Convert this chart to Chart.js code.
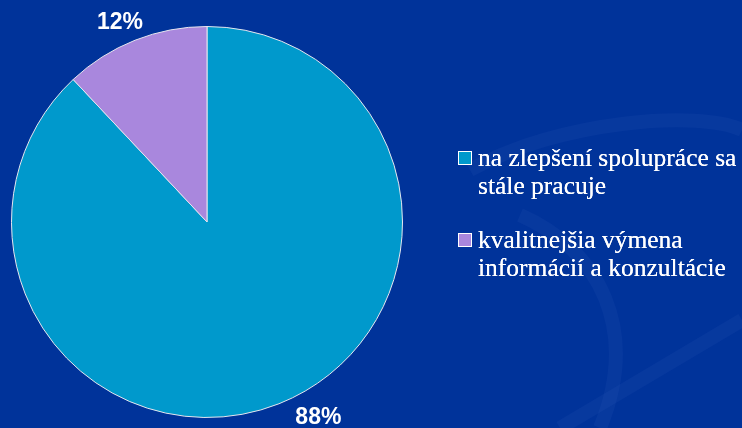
<!DOCTYPE html>
<html>
<head>
<meta charset="utf-8">
<script src="https://cdn.jsdelivr.net/npm/chart.js@4.4.0/dist/chart.umd.min.js"></script>
<style>
  html, body { margin: 0; padding: 0; }
  body {
    width: 742px; height: 428px; overflow: hidden; position: relative;
    background: #00339a;
  }
  #bg { position: absolute; left: 0; top: 0; }
  #wrap { position: absolute; left: 0; top: 0; width: 742px; height: 428px; }
  #legend {
    position: absolute; left: 458px; top: 144px;
    font-family: "Liberation Serif", "DejaVu Serif", serif;
    font-size: 25.5px; line-height: 28px; color: #fff;
    text-shadow: 0 0 0.6px #fff;
  }
  .item { position: relative; padding-left: 20px; margin-bottom: 26px; }
  .box {
    position: absolute; left: 0; top: 7px; width: 12px; height: 12px;
    border: 1px solid #fff;
  }
</style>
</head>
<body>
<svg id="bg" width="742" height="428">
  <g fill="none" stroke="rgba(120,160,230,0.06)" stroke-width="14">
    <path d="M470 170 C 560 120, 700 110, 742 130"/>
    <path d="M600 428 C 640 330, 600 250, 520 215"/>
    <path d="M560 428 C 640 380, 700 345, 742 320"/>
  </g>
</svg>
<div id="wrap"><canvas id="pie" width="742" height="428"></canvas></div>
<div id="legend"></div>
<script>
// survey answers (percent)
const categories = [
  ['na zlepšení spolupráce sa', 'stále pracuje'],
  ['kvalitnejšia výmena', 'informácií a konzultácie']
];
const shares = [88, 12];
const sliceColors = ['#0099cc', '#a987dd'];

// label placement: angle nudge (deg) and distance past the rim
const labelNudge = [-8, -2];
const labelGap = [30, 22];

const pctLabels = {
  id: 'pctLabels',
  afterDatasetsDraw(chart) {
    const ctx = chart.ctx;
    const meta = chart.getDatasetMeta(0);
    ctx.save();
    ctx.fillStyle = '#fff';
    ctx.font = 'bold 23px "Liberation Sans", Arial, sans-serif';
    ctx.textAlign = 'center';
    ctx.textBaseline = 'middle';
    meta.data.forEach((arc, i) => {
      const p = arc.getProps(['x', 'y', 'startAngle', 'endAngle', 'outerRadius'], true);
      const mid = (p.startAngle + p.endAngle) / 2 + labelNudge[i] * Math.PI / 180;
      const r = p.outerRadius + labelGap[i];
      ctx.fillText(shares[i] + '%', p.x + Math.cos(mid) * r, p.y + Math.sin(mid) * r);
    });
    ctx.restore();
  }
};

const chart = new Chart(document.getElementById('pie'), {
  type: 'pie',
  data: {
    labels: categories,
    datasets: [{
      data: shares,
      backgroundColor: sliceColors,
      borderColor: '#e6e6ee',
      borderWidth: 1
    }]
  },
  options: {
    responsive: false,
    animation: false,
    layout: { padding: { left: 11, right: 339, top: 26, bottom: 10 } },
    plugins: {
      legend: { display: false },
      tooltip: { enabled: false }
    }
  },
  plugins: [pctLabels]
});

// legend built from the chart's own labels and colours
const legend = document.getElementById('legend');
chart.data.labels.forEach((lines, i) => {
  const item = document.createElement('div');
  item.className = 'item';
  const box = document.createElement('span');
  box.className = 'box';
  box.style.background = chart.data.datasets[0].backgroundColor[i];
  item.appendChild(box);
  lines.forEach(line => {
    const row = document.createElement('div');
    row.textContent = line;
    item.appendChild(row);
  });
  legend.appendChild(item);
});
</script>
</body>
</html>
